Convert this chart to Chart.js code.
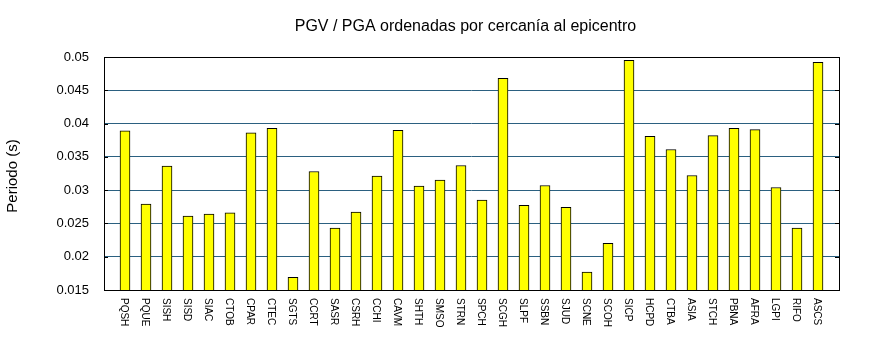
<!DOCTYPE html>
<html><head><meta charset="utf-8">
<script src="https://cdn.jsdelivr.net/npm/chart.js@4"></script>
<style>html,body{margin:0;padding:0;background:#fff}#wrap{width:870px;height:350px}</style>
</head><body><div id="wrap"><canvas id="c" width="870" height="350"></canvas></div>
<script>
const stations = ['PQSH','PQUE','SISH','SISD','SIAC','CTOB','CPAR','CTEC','SGTS','CCRT','SASR','CSRH','CCHI','CAVM','SHTH','SMSO','STRN','SPCH','SCGH','SLPF','SSBN','SJUD','SCNE','SCOH','SICP','HCPD','CTBA','ASIA','STCH','PBNA','AFRA','LGPI','RIFO','ASCS'];
const values = [0.0389,0.0279,0.0336,0.0261,0.0264,0.0266,0.0386,0.0393,0.0169,0.0328,0.0243,0.0267,0.0321,0.0390,0.0306,0.0315,0.0337,0.0285,0.0468,0.0277,0.0307,0.0274,0.0177,0.0220,0.0495,0.0381,0.0361,0.0322,0.0382,0.0393,0.0391,0.0304,0.0243,0.0492];
const yTicks = [0.015,0.02,0.025,0.03,0.035,0.04,0.045,0.05];
const chartTitle = 'PGV / PGA ordenadas por cercanía al epicentro';
const yTitle = 'Periodo (s)';
const FONT = '"Liberation Sans", Arial, sans-serif';

const decor = {
  id: 'decor',
  afterDraw(chart) {
    const ctx = chart.ctx, a = chart.chartArea;
    const ys = chart.scales.y, xs = chart.scales.x;
    ctx.save();
    ctx.strokeStyle = '#000'; ctx.lineWidth = 1;
    yTicks.forEach(v => {
      const y = Math.round(ys.getPixelForValue(v)) + 0.5;
      ctx.beginPath();
      ctx.moveTo(a.left, y); ctx.lineTo(a.left + 4, y);
      ctx.moveTo(a.right - 4, y); ctx.lineTo(a.right, y);
      ctx.stroke();
    });
    ctx.strokeRect(Math.round(a.left) + 0.5, Math.round(a.top) + 0.5, Math.round(a.right - a.left), Math.round(a.bottom - a.top));
    ctx.fillStyle = '#000';
    ctx.font = '16px ' + FONT;
    ctx.textAlign = 'center'; ctx.textBaseline = 'alphabetic';
    ctx.fillText(chartTitle, 465.5, 31);
    ctx.save();
    ctx.font = '15px ' + FONT;
    ctx.translate(13, 176);
    ctx.rotate(-Math.PI / 2);
    ctx.textBaseline = 'middle';
    ctx.fillText(yTitle, 0, 0);
    ctx.restore();
    ctx.font = '10px ' + FONT;
    ctx.textAlign = 'left'; ctx.textBaseline = 'middle';
    stations.forEach((s, i) => {
      const x = xs.getPixelForValue(i);
      ctx.save();
      ctx.translate(x - 1, 298);
      ctx.rotate(Math.PI / 2);
      ctx.fillText(s, 0, 0);
      ctx.restore();
    });
    ctx.restore();
  }
};

new Chart(document.getElementById('c'), {
  type: 'bar',
  data: {
    datasets: [{
      data: values.map((v, i) => ({ x: i, y: v })),
      backgroundColor: '#ffff00',
      borderColor: '#000000',
      borderWidth: 1,
      borderSkipped: 'start',
      barThickness: 10
    }]
  },
  options: {
    responsive: false,
    animation: false,
    devicePixelRatio: 1,
    layout: { padding: { top: 57, right: 31, bottom: 0, left: 0 } },
    plugins: { legend: { display: false }, title: { display: false }, tooltip: { enabled: false } },
    scales: {
      x: {
        type: 'linear', min: -1, max: 34, offset: false,
        grid: { display: false, drawTicks: false },
        border: { display: false },
        ticks: { display: false },
        afterFit: s => { s.height = 60; }
      },
      y: {
        min: 0.015, max: 0.05,
        afterBuildTicks: s => { s.ticks = yTicks.map(v => ({ value: v })); },
        grid: { color: '#2b6080', drawTicks: false, lineWidth: 1 },
        border: { display: false },
        ticks: {
          padding: 15, color: '#000',
          font: { family: FONT, size: 13 },
          callback: v => String(+v.toFixed(3))
        },
        afterFit: s => { s.width = 104; }
      }
    }
  },
  plugins: [decor]
});
</script>
</body></html>
